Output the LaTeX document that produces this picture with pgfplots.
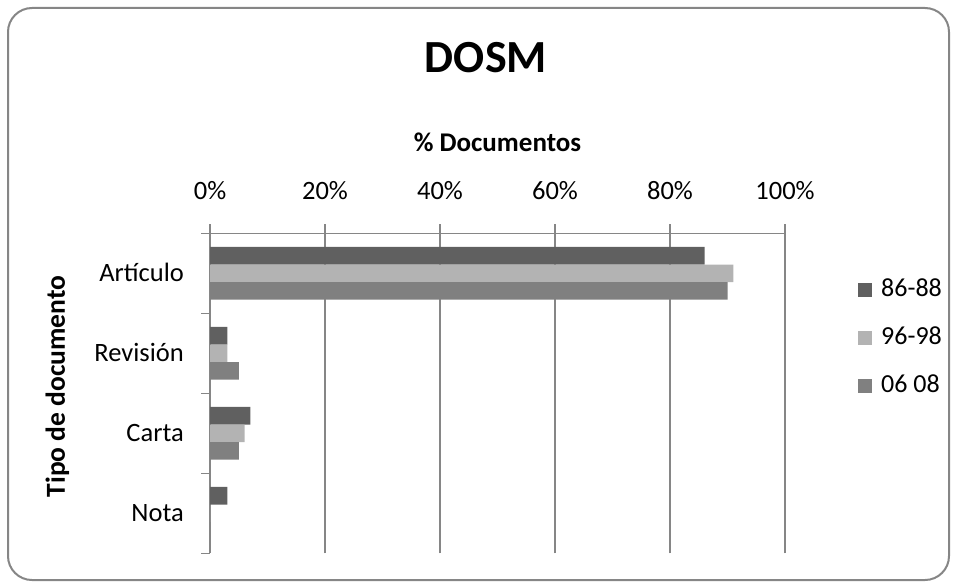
\documentclass[border=0pt]{standalone}
\usepackage{fontspec}
\setmainfont{Carlito}
\usepackage{pgfplots}
\pgfplotsset{compat=1.18}

\definecolor{serA}{HTML}{606060}
\definecolor{serB}{HTML}{B3B3B3}
\definecolor{serC}{HTML}{808080}
\definecolor{axisgray}{HTML}{868686}

\pgfplotsset{
  sqlegend/.style={legend image code/.code={\fill[##1] (0pt,-7pt) rectangle (14pt,7pt);}},
}

\begin{document}
\begin{tikzpicture}[x=1pt,y=1pt]
\path[use as bounding box] (0,0) rectangle (957,-583);
% chart frame
\draw[axisgray, line width=2pt, rounded corners=24pt] (8,-8) rectangle (949,-580);
\node[font=\fontsize{46}{55}\selectfont\bfseries] at (486,-58) {DOSM};
\node[font=\fontsize{27}{32}\selectfont\bfseries] at (497.5,-142) {\% Documentos};
\node[font=\fontsize{27.5}{32}\selectfont\bfseries, rotate=90] at (57.5,-386.5) {Tipo de documento};

\begin{axis}[
  at={(210pt,-233.3pt)}, anchor=north west,
  scale only axis, width=575pt, height=320pt,
  xbar, bar width=17.6pt,
  xmin=0, xmax=100, ymin=-0.5, ymax=3.5,
  axis x line*=top, axis y line*=left,
  axis line style={axisgray, line width=1.5pt},
  tick style={axisgray, line width=1.5pt},
  tick align=outside, major tick length=9pt, minor tick length=9pt,
  xtick={0,20,40,60,80,100},
  xticklabels={0\%,20\%,40\%,60\%,80\%,100\%},
  xmajorgrids, grid style={axisgray, line width=1.5pt},
  ytick={0,1,2,3},
  yticklabels={Nota,Carta,Revisión,Artículo},
  minor ytick={-0.5,0.5,1.5,2.5,3.5},
  major y tick style={draw=none},
  tick label style={font=\fontsize{26.5}{31}\selectfont, inner sep=0pt, text height=16.7pt, text depth=0pt},
  xticklabel style={anchor=south, yshift=25pt},
  yticklabel style={anchor=east, xshift=-17pt},
  legend style={at={(1.127,0.8597)}, anchor=north west, draw=none, fill=none,
    font=\fontsize{26}{31}\selectfont, inner sep=0pt, row sep=24pt, column sep=9pt,
    nodes={inner sep=0pt, text height=18pt, text depth=6pt}},
  legend cell align=left,
]
\addplot[xbar, fill=serA, draw=none, bar shift=17.6pt, sqlegend] coordinates {(86,3) (3,2) (7,1) (3,0)};
\addplot[xbar, fill=serB, draw=none, bar shift=0pt, sqlegend] coordinates {(91,3) (3,2) (6,1) (0,0)};
\addplot[xbar, fill=serC, draw=none, bar shift=-17.6pt, sqlegend] coordinates {(90,3) (5,2) (5,1) (0,0)};
\legend{86-88,96-98,06 08}
\end{axis}
\end{tikzpicture}
\end{document}
